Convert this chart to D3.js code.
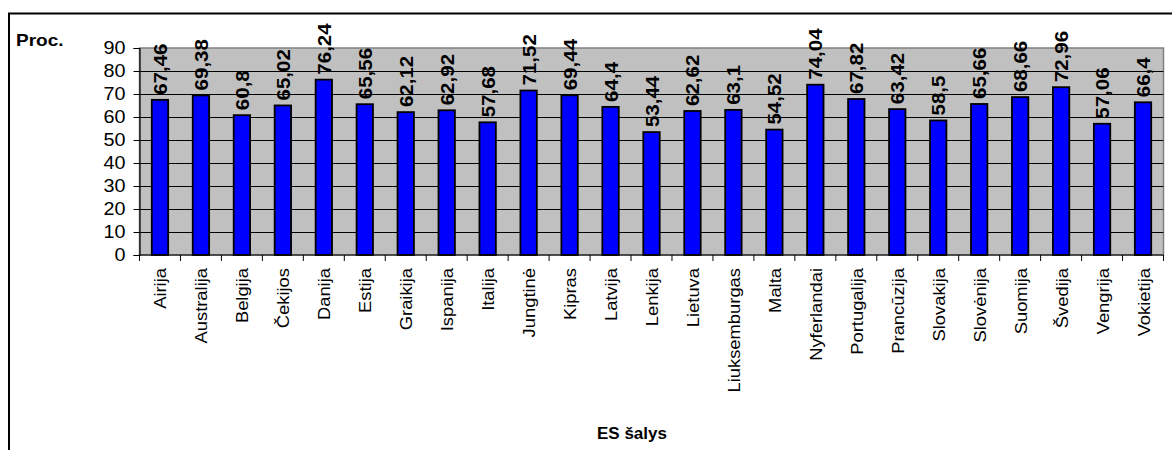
<!DOCTYPE html>
<html>
<head>
<meta charset="utf-8">
<script src="https://cdn.jsdelivr.net/npm/d3@7"></script>
<style>
  html, body { margin: 0; padding: 0; background: #fff; }
  svg { display: block; }
  text { font-family: "Liberation Sans", Arial, sans-serif; fill: #000; }
</style>
</head>
<body>
<svg id="chart" width="1172" height="450"></svg>
<script>
const categories = ["Airija","Australija","Belgija","Čekijos","Danija","Estija","Graikija","Ispanija","Italija","Jungtinė","Kipras","Latvija","Lenkija","Lietuva","Liuksemburgas","Malta","Nyferlandai","Portugalija","Prancūzija","Slovakija","Slovėnija","Suomija","Švedija","Vengrija","Vokietija"];
const values = [67.46,69.38,60.8,65.02,76.24,65.56,62.12,62.92,57.68,71.52,69.44,64.4,53.44,62.62,63.1,54.52,74.04,67.82,63.42,58.5,65.66,68.66,72.96,57.06,66.4];
const yTicks = [0,10,20,30,40,50,60,70,80,90];
const yTitle = "Proc.";
const xTitle = "ES šalys";

const svg = d3.select("#chart");
const W = 1172, H = 450;
const plot = {left: 139.5, right: 1163.5, top: 48, bottom: 255};

// outer frame
svg.append("rect").attr("x", 9).attr("y", 13.5).attr("width", W).attr("height", H)
  .attr("fill", "#fff").attr("stroke", "#000").attr("stroke-width", 2);

const x = d3.scaleBand().domain(categories).range([plot.left, plot.right]).paddingInner(0.6).paddingOuter(0.3);
const y = d3.scaleLinear().domain([0, 90]).range([plot.bottom, plot.top]);

// plot background
svg.append("rect").attr("x", plot.left).attr("y", plot.top)
  .attr("width", plot.right - plot.left).attr("height", plot.bottom - plot.top)
  .attr("fill", "#C0C0C0").attr("stroke", "#808080").attr("stroke-width", 1.5);

// gridlines
svg.append("g").selectAll("line").data(yTicks.filter(d => d > 0 && d < 90)).join("line")
  .attr("x1", plot.left).attr("x2", plot.right)
  .attr("y1", d => Math.round(y(d)) + 0.5).attr("y2", d => Math.round(y(d)) + 0.5)
  .attr("stroke", "#000").attr("stroke-width", 1);

// y axis
const yAxis = d3.axisLeft(y).tickValues(yTicks).tickSize(6).tickPadding(8).tickFormat(d3.format("d"));
const gy = svg.append("g").attr("transform", `translate(${plot.left},0)`).call(yAxis);
gy.select(".domain").attr("stroke", "#000").attr("stroke-width", 1.2);
gy.selectAll(".tick line").attr("stroke", "#000");
gy.selectAll(".tick text").attr("font-size", 18).attr("font-family", '"Liberation Sans", Arial, sans-serif')
  .attr("fill", "#000")
  .attr("transform", function() { const xx = +d3.select(this).attr("x"); return `translate(${xx},0) scale(1.1,1) translate(${-xx},0)`; });

// bars
svg.append("g").selectAll("rect").data(values).join("rect")
  .attr("x", (d, i) => x(categories[i]))
  .attr("width", x.bandwidth())
  .attr("y", d => y(d))
  .attr("height", d => y(0) - y(d))
  .attr("fill", "#0000FF").attr("stroke", "#000").attr("stroke-width", 1.8);

// x axis (ticks at band boundaries)
const bounds = d3.range(categories.length + 1).map(i => plot.left + i * (plot.right - plot.left) / categories.length);
svg.append("line").attr("x1", plot.left).attr("x2", plot.right).attr("y1", plot.bottom).attr("y2", plot.bottom)
  .attr("stroke", "#000").attr("stroke-width", 1.2);
svg.append("g").selectAll("line").data(bounds).join("line")
  .attr("x1", d => d).attr("x2", d => d).attr("y1", plot.bottom).attr("y2", plot.bottom + 6)
  .attr("stroke", "#000").attr("stroke-width", 1);

// category labels
svg.append("g").selectAll("text").data(categories).join("text")
  .attr("transform", d => `translate(${x(d) + x.bandwidth() / 2 + 6.5},268) rotate(-90) scale(1.08,1)`)
  .attr("text-anchor", "end")
  .attr("font-size", 17)
  .text(d => d);

// value labels
svg.append("g").selectAll("text").data(values).join("text")
  .attr("transform", (d, i) => `translate(${x(categories[i]) + x.bandwidth() / 2 + 7},${y(d) - 5}) rotate(-90) scale(1.08,1)`)
  .attr("text-anchor", "start")
  .attr("font-size", 19).attr("font-weight", "bold")
  .text(d => String(d).replace(".", ","));

// titles
svg.append("text").attr("x", 16).attr("y", 46).attr("font-size", 17).attr("font-weight", "bold")
  .attr("transform", "translate(16,0) scale(1.12,1) translate(-16,0)")
  .text(yTitle);
svg.append("text").attr("x", 632).attr("y", 439).attr("font-size", 17).attr("font-weight", "bold")
  .attr("text-anchor", "middle")
  .text(xTitle);
</script>
</body>
</html>
